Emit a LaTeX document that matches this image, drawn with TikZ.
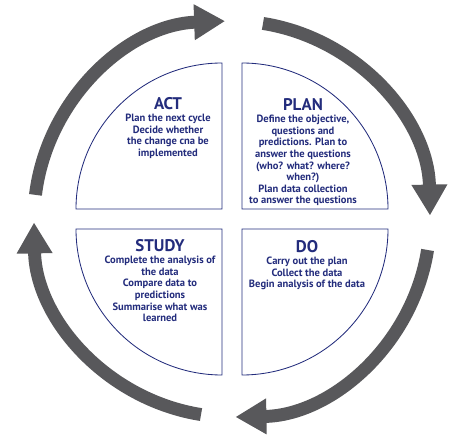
\documentclass[tikz,border=0pt]{standalone}
\usepackage{fontspec}
\setmainfont{PT Sans}
\usetikzlibrary{positioning,arrows.meta}
\definecolor{pdsanavy}{HTML}{232C7C}
\definecolor{ringgray}{HTML}{58585B}

\begin{document}
\begin{tikzpicture}[x=0.025cm,y=0.025cm,
    quad/.style={draw=pdsanavy,line width=0.6pt},
    phase/.style={text=pdsanavy,font=\bfseries\fontsize{12}{14}\selectfont,inner sep=0pt},
    body/.style={text=pdsanavy,font=\bfseries\fontsize{7.5}{8.25}\selectfont,align=center,inner sep=0pt},
    cycarrow/.style={ringgray,line width=9.2pt,-{Triangle[length=22pt,width=24pt]}}]
  \useasboundingbox (0,0) rectangle (452,440);
  \coordinate (c) at (232,221);
  \draw[quad] (222,231) -- ++(-146,0) arc[start angle=180,end angle=90,radius=146] -- cycle;
  \draw[quad] (242,231) -- ++(0,146) arc[start angle=90,end angle=0,radius=146] -- cycle;
  \draw[quad] (242,211) -- ++(146,0) arc[start angle=0,end angle=-90,radius=146] -- cycle;
  \draw[quad] (222,211) -- ++(0,-146) arc[start angle=-90,end angle=-180,radius=146] -- cycle;
  \node[phase] (act) at (168,336) {ACT};
  \node[body,below=2.5pt of act] (actbody) {Plan the next cycle\\Decide whether\\the change cna be\\implemented};
  \node[phase] (plan) at (303,335) {PLAN};
  \node[body,below=2.5pt of plan] (planbody) {Define the objective,\\questions and\\predictions. Plan to\\answer the questions\\(who? what? where?\\when?)\\Plan data collection\\to answer the questions};
  \node[phase] (study) at (160,194) {STUDY};
  \node[body,below=2.5pt of study] (studybody) {Complete the analysis of\\the data\\Compare data to\\predictions\\Summarise what was\\learned};
  \node[phase] (do) at (307,193) {DO};
  \node[body,below=2.5pt of do] (dobody) {Carry out the plan\\Collect the data\\Begin analysis of the data};
  \path (c) ++(173:198) coordinate (a1);
  \path (c) ++(81:198) coordinate (a2);
  \path (c) ++(-9:198) coordinate (a3);
  \path (c) ++(-99:198) coordinate (a4);
  \draw[cycarrow] (a1) arc[start angle=173,end angle=92,radius=198];
  \draw[cycarrow] (a2) arc[start angle=81,end angle=1,radius=198];
  \draw[cycarrow] (a3) arc[start angle=-9,end angle=-89,radius=198];
  \draw[cycarrow] (a4) arc[start angle=-99,end angle=-179,radius=198];
\end{tikzpicture}
\end{document}
